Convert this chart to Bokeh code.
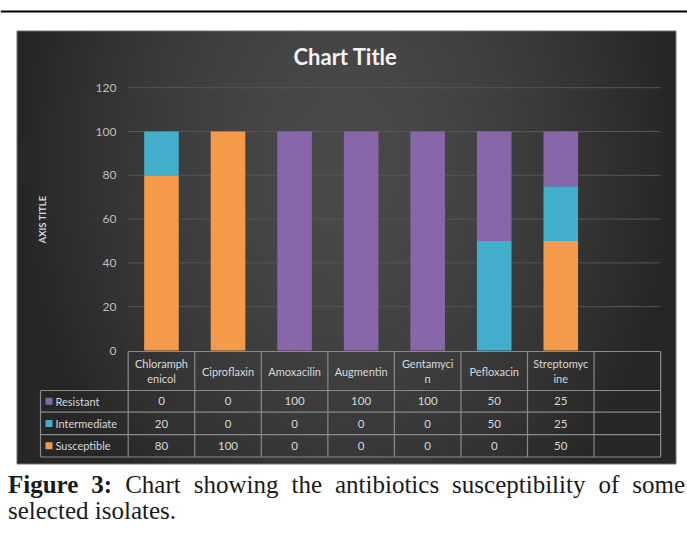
import numpy as np
from bokeh.plotting import figure
from bokeh.models import ColumnDataSource, Range1d, Div
from bokeh.layouts import column
from bokeh.core.properties import value
from bokeh.embed import file_html
from bokeh.resources import INLINE

# ---------------- data ----------------
categories = ["Chloramphenicol", "Ciproflaxin", "Amoxacilin", "Augmentin",
              "Gentamycin", "Pefloxacin", "Streptomycine"]
header_labels = ["Chloramph\nenicol", "Ciproflaxin", "Amoxacilin", "Augmentin",
                 "Gentamyci\nn", "Pefloxacin", "Streptomyc\nine"]
series_names = ["Resistant", "Intermediate", "Susceptible"]
resistant = [0, 0, 100, 100, 100, 50, 25]
intermediate = [20, 0, 0, 0, 0, 50, 25]
susceptible = [80, 100, 0, 0, 0, 0, 50]
y_ticks = [0, 20, 40, 60, 80, 100, 120]
title_text = "Chart Title"
axis_title = "AXIS TITLE"
caption_bold = "Figure 3:"
caption_line1 = "Chart showing the antibiotics susceptibility of some"
caption_line2 = "selected isolates."

# ---------------- style / layout ----------------
C_RES = "#8767aa"
C_INT = "#43adcc"
C_SUS = "#f49a4a"
FONT = value("Lato")
TXT = "#d9d9d9"
LINE = "#8a8a8a"

W, H = 687, 468
PX_X0, PX_X1 = 0, W              # page coordinates covered by the figure
PX_Y0, PX_Y1 = 0, H
COL0, COLW = 127.7, 66.55        # plot-area left edge and category width (page px)
ZERO_Y, PX_PER_UNIT = 350.0, 2.19

def cx(u):
    return COL0 + COLW * u

x_range = Range1d((PX_X0 - COL0) / COLW, (PX_X1 - COL0) / COLW)
y_range = Range1d((ZERO_Y - PX_Y1) / PX_PER_UNIT, (ZERO_Y - PX_Y0) / PX_PER_UNIT)

p = figure(width=W, height=H, x_range=x_range, y_range=y_range,
           x_axis_location=None, y_axis_location=None,
           toolbar_location=None, output_backend="svg", min_border=0,
           outline_line_color=None, background_fill_color="white",
           border_fill_color="white")
p.grid.visible = False
p.extra_x_ranges = {"px": Range1d(PX_X0, PX_X1)}
p.extra_y_ranges = {"px": Range1d(PX_Y1, PX_Y0)}
px = dict(x_range_name="px", y_range_name="px")

# top rule of the page
p.segment(x0=[0], x1=[W], y0=[11], y1=[11], line_color="black", line_width=2, **px)

# dark gradient panel
nx, ny = 330, 216
gx = np.linspace(-1, 1, nx)[None, :]
gy = np.linspace(0, 1, ny)[:, None]
r = np.sqrt(gx ** 2 + 0.45 * ((gy - 0.3) / 0.7) ** 2)
g = np.clip(74 - 36 * np.clip(r, 0, 1) ** 1.6, 0, 255).astype(np.uint32)
img = (255 << 24) | (g << 16) | (g << 8) | g
PL, PR, PT, PB = 16.5, 675.5, 30.5, 463.5
p.image_rgba(image=[img.astype(np.uint32)], x=PL, y=PT, dw=PR - PL, dh=PB - PT, **px)
p.quad(left=[PL], right=[PR], top=[PT], bottom=[PB], fill_color=None,
       line_color="#707070", line_width=1, **px)

# gridlines
p.segment(x0=[0] * 6, x1=[8] * 6, y0=y_ticks[1:], y1=y_ticks[1:],
          line_color="#565656", line_width=1)

# title, axis title, tick labels
p.text(x=[345], y=[56], text=[title_text], text_align="center", text_baseline="middle",
       text_font=FONT, text_font_style="bold", text_font_size="22px",
       text_color="#f2f2f2", **px)
p.text(x=[42], y=[219], text=[axis_title], angle=np.pi / 2, text_align="center",
       text_baseline="middle", text_font=FONT, text_font_style="bold",
       text_font_size="9.5px", text_color=TXT, **px)
p.text(x=[116] * len(y_ticks), y=y_ticks, text=[str(t) for t in y_ticks],
       x_range_name="px", text_align="right", text_baseline="middle",
       text_font=FONT, text_font_size="12px", text_color="#bfbfbf")

# stacked bars
src = ColumnDataSource(dict(x=[i + 0.5 for i in range(len(categories))],
                            Susceptible=susceptible, Intermediate=intermediate,
                            Resistant=resistant))
p.vbar_stack(["Susceptible", "Intermediate", "Resistant"], x="x", width=0.52,
             color=[C_SUS, C_INT, C_RES], line_color=None, source=src)

# data table
HDR_T, HDR_B = 351, 390
ROW_B = [411.7, 434.2, 456.5]
ROW_C = [400.8, 423.0, 445.3]
LEG_L = 40
n = len(categories) + 1
p.segment(x0=[cx(k) for k in range(n + 1)], x1=[cx(k) for k in range(n + 1)],
          y0=[HDR_T] * (n + 1), y1=[ROW_B[-1]] * (n + 1),
          line_color=LINE, line_width=1.2, **px)
p.segment(x0=[LEG_L], x1=[LEG_L], y0=[HDR_B], y1=[ROW_B[-1]],
          line_color=LINE, line_width=1.2, **px)
p.segment(x0=[cx(0)], x1=[cx(n)], y0=[HDR_T], y1=[HDR_T], line_color=LINE, line_width=1.2, **px)
p.segment(x0=[LEG_L] * 4, x1=[cx(n)] * 4, y0=[HDR_B] + ROW_B, y1=[HDR_B] + ROW_B,
          line_color=LINE, line_width=1.2, **px)

# header labels
p.text(x=[i + 0.5 for i in range(len(categories))], y=[370.5] * len(categories),
       text=header_labels, y_range_name="px", text_align="center", text_baseline="middle",
       text_font=FONT, text_font_size="11px", text_line_height=1.1, text_color=TXT)

# legend column
series_vals = [resistant, intermediate, susceptible]
series_cols = [C_RES, C_INT, C_SUS]
p.scatter(x=[48.5] * 3, y=ROW_C, marker="square", size=7, fill_color=series_cols,
          line_color=None, **px)
p.text(x=[55] * 3, y=ROW_C, text=series_names, text_align="left", text_baseline="middle",
       text_font=FONT, text_font_size="11px", text_color=TXT, **px)

# values
for vals, yc in zip(series_vals, ROW_C):
    p.text(x=[i + 0.5 for i in range(len(vals))], y=[yc] * len(vals),
           text=[str(v) for v in vals], y_range_name="px", text_align="center",
           text_baseline="middle", text_font=FONT, text_font_size="11.5px", text_color=TXT)

base = ("margin:0 0 0 8px; width:677px; font-family:'Liberation Serif', serif; "
        "font-size:25px; line-height:26px; color:#1a1a1a; white-space:nowrap;")
caption = Div(
    text=(f"<div style=\"{base} padding-top:4px; text-align:justify; text-align-last:justify;\">"
          f"<b>{caption_bold}</b> <span>{caption_line1}</span></div>"
          f"<div style=\"{base} text-align:left;\">{caption_line2}</div>"),
    width=W, height=534 - H, margin=(0, 0, 0, 0))

layout = column(p, caption, spacing=0)
open("out.html", "w").write(file_html(layout, INLINE))
